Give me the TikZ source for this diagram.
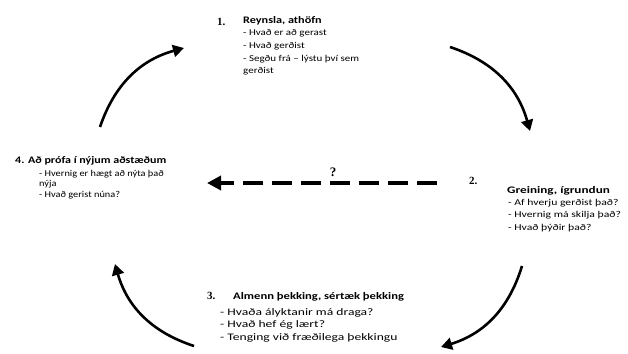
\documentclass[tikz,border=0pt]{standalone}
\usepackage{fontspec}
\usepackage{graphicx}
\setmainfont{Carlito}
\newfontfamily\numfont{Liberation Serif}
\usetikzlibrary{arrows.meta}
\newcommand{\blk}[3]{\scalebox{#1}[1]{\fontsize{#2}{12.6}\selectfont\begin{tabular}[t]{@{}l@{}}#3\end{tabular}}}
\newcommand{\ttx}[2]{\scalebox{#1}[1]{#2}}
\begin{document}
\begin{tikzpicture}[x=1pt,y=-1pt,
  cyc/.style={line width=2.6pt,-{Triangle[length=11pt,width=12pt]}},
  dashline/.style={line width=4.5pt,dash pattern=on 20pt off 9pt,-{Triangle[length=14pt,width=14pt]}},
  ttl/.style={anchor=base west,inner sep=0pt,font=\bfseries\fontsize{10}{12}\selectfont},
  num/.style={anchor=base west,inner sep=0pt,font=\numfont\bfseries\fontsize{11}{12}\selectfont},
  items/.style={anchor=base west,inner sep=0pt}]
\useasboundingbox (0,0) rectangle (628,353);
% block 1
\node[num] (n1) at (217,26) {1.};
\node[ttl] (t1) at (243,24) {\ttx{1.22}{Reynsla, athöfn}};
\node[items] (i1) at (243,36) {\blk{1.22}{9}{- Hvað er að gerast\\- Hvað gerðist\\- Segðu frá -- lýstu því sem\\gerðist}};
% block 2
\node[num] (n2) at (469,184) {2.};
\node[ttl] (t2) at (507,193) {\ttx{1.32}{Greining, ígrundun}};
\node[items] (i2) at (508,205) {\blk{1.3}{9}{- Af hverju gerðist það?\\- Hvernig má skilja það?\\- Hvað þýðir það?}};
% block 3
\node[num] (n3) at (207,299) {3.};
\node[ttl] (t3) at (233,299) {\ttx{1.26}{Almenn þekking, sértæk þekking}};
\node[items] (i3) at (220,315) {\blk{1.36}{10}{- Hvaða ályktanir má draga?\\- Hvað hef ég lært?\\- Tenging við fræðilega þekkingu}};
% block 4
\node[ttl] (t4) at (15,163) {\ttx{1.2}{4. Að prófa í nýjum aðstæðum}};
\node[items] (i4) at (39,176) {\scalebox{1.15}[1]{\fontsize{9}{10.8}\selectfont\begin{tabular}[t]{@{}l@{}}- Hvernig er hægt að nýta það\\nýja\\- Hvað gerist núna?\end{tabular}}};
% question mark
\node[anchor=base,inner sep=0pt,font=\numfont\bfseries\fontsize{13}{14}\selectfont] (q) at (333,176) {?};
% cycle arrows
\coordinate (a1s) at (100,127); \coordinate (a1e) at (184,48);
\coordinate (a2s) at (450,47);  \coordinate (a2e) at (530,131);
\coordinate (a3s) at (522,266); \coordinate (a3e) at (441,347);
\coordinate (a4s) at (194,346); \coordinate (a4e) at (115,264);
\draw[cyc] (a1s) to[bend left=28] (a1e);
\draw[cyc] (a2s) to[bend left=28] (a2e);
\draw[cyc] (a3s) to[bend left=28] (a3e);
\draw[cyc] (a4s) to[bend left=28] (a4e);
% dashed arrow
\coordinate (ds) at (437,183); \coordinate (de) at (207,183);
\draw[dashline] (ds) -- (de);
\end{tikzpicture}
\end{document}
